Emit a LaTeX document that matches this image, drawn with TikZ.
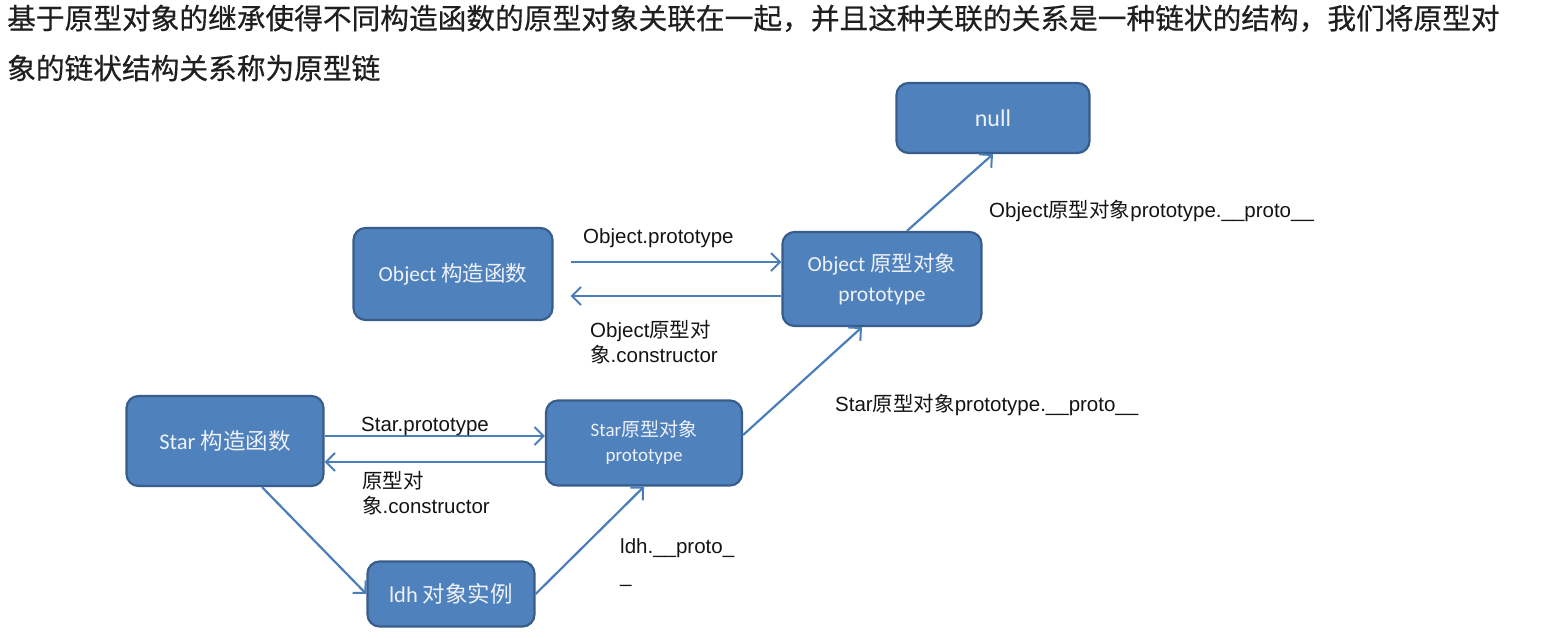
\documentclass[tikz,border=0pt]{standalone}
\usepackage{fontspec}
\setmainfont{Liberation Sans}
\newfontfamily\cjk{Noto Sans CJK SC}
\newfontfamily\cjktitle[FakeBold=0.5]{Noto Sans CJK SC}
\newfontfamily\boxfont{Carlito}
\newcommand\zhs[1]{{\cjk #1}}
\usetikzlibrary{arrows.meta}
\definecolor{boxfill}{HTML}{4F81BD}
\definecolor{boxline}{HTML}{385D8A}
\definecolor{arr}{HTML}{4A7EBB}
\definecolor{boxtext}{HTML}{EEF2F8}
\begin{document}
\begin{tikzpicture}[x=1pt,y=-1pt,
  box/.style={draw=boxline, line width=2.2pt, fill=boxfill, rounded corners=12pt,
    text=boxtext, align=center, inner sep=0pt},
  link/.style={draw=arr, line width=2.2pt,
    -{Straight Barb[length=9pt,width=18pt,line width=2pt]}},
  lab/.style={font=\fontsize{20.5}{24.5}\selectfont, anchor=west, inner sep=0pt, align=left, text=black!92},
  title/.style={font=\cjktitle\fontsize{28.7}{36}\selectfont, anchor=base west, inner sep=0pt, text=black!88}]
\useasboundingbox[fill=white] (0,0) rectangle (1549,637);

% title
\node[title] (t1) at (7,29) {基于原型对象的继承使得不同构造函数的原型对象关联在一起，并且这种关联的关系是一种链状的结构，我们将原型对};
\node[title] (t2) at (7,79) {象的链状结构关系称为原型链};

% boxes
\node[box, minimum width=193pt, minimum height=70pt, font=\boxfont\fontsize{24}{28}\selectfont] (null) at (993,118) {null};
\node[box, minimum width=199pt, minimum height=92pt, font=\boxfont\fontsize{21.5}{26}\selectfont] (objc) at (453,274) {Object \zhs{构造函数}};
\node[box, minimum width=199pt, minimum height=94pt, font=\boxfont\fontsize{21.5}{30}\selectfont] (objp) at (882,279) {Object \zhs{原型对象}\\prototype};
\node[box, minimum width=197pt, minimum height=90pt, font=\boxfont\fontsize{22.5}{26}\selectfont] (starc) at (225,441) {Star \zhs{构造函数}};
\node[box, minimum width=196pt, minimum height=85pt, font=\boxfont\fontsize{19}{25}\selectfont] (starp) at (644,443) {Star\zhs{原型对象}\\prototype};
\node[box, minimum width=167pt, minimum height=65pt, font=\boxfont\fontsize{22.5}{26}\selectfont] (ldh) at (451,594) {ldh \zhs{对象实例}};

% connectors
\coordinate (a1) at ([xshift=17pt,yshift=12pt]objc.east);
\draw[link] (a1) -- (a1 -| objp.west);
\coordinate (a2) at ([yshift=-17pt]objp.west);
\draw[link] (a2) -- ([xshift=17pt]a2 -| objc.east);
\draw[link] ([xshift=25pt]objp.north) -- (null.south);
\draw[link] ([yshift=8pt]starp.east) -- ([xshift=-20pt]objp.south);
\coordinate (a3) at ([yshift=5pt]starc.east);
\draw[link] (a3) -- (a3 -| starp.west);
\coordinate (a4) at ([yshift=-19pt]starp.west);
\draw[link] (a4) -- (a4 -| starc.east);
\draw[link] ([xshift=37pt]starc.south) -- (ldh.west);
\draw[link] (ldh.east) -- (starp.south);

% labels
\node[lab] (l1) at (583,238) {Object.prototype};
\node[lab] (l2) at (590,342) {Object\zhs{原型对}\\\zhs{象}.constructor};
\node[lab] (l3) at (989,211) {Object\zhs{原型对象}prototype.\_\_proto\_\_};
\node[lab] (l4) at (835,405) {Star\zhs{原型对象}prototype.\_\_proto\_\_};
\node[lab] (l5) at (361,426) {Star.prototype};
\node[lab] (l6) at (362,493) {\zhs{原型对}\\\zhs{象}.constructor};
\node[lab, font=\fontsize{20.5}{29}\selectfont] (l7) at (620,563) {ldh.\_\_proto\_\\\_};
\end{tikzpicture}
\end{document}
